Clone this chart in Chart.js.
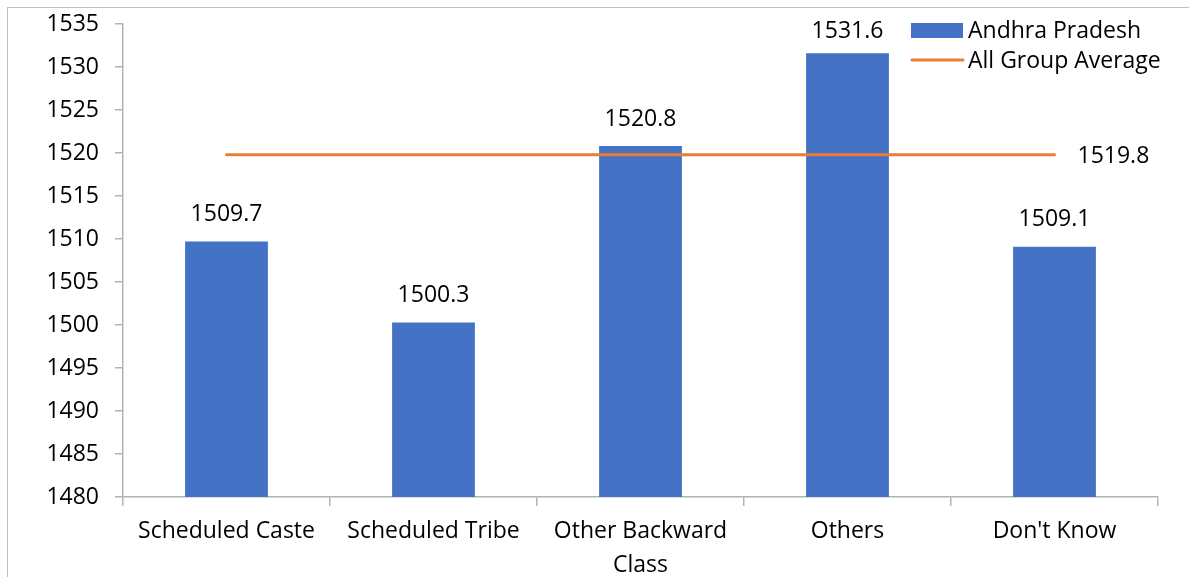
<!DOCTYPE html>
<html>
<head>
<meta charset="utf-8">
<script src="https://cdn.jsdelivr.net/npm/chart.js@4/dist/chart.umd.min.js"></script>
<style>
  html, body { margin: 0; padding: 0; background: #fff; }
  #wrap { position: relative; width: 1189px; height: 577px; }
</style>
</head>
<body>
<div id="wrap"><canvas id="c" width="1189" height="577"></canvas></div>
<script>
// Mean scores by social group
const categories = ['Scheduled Caste', 'Scheduled Tribe', ['Other Backward', 'Class'], 'Others', "Don't Know"];
const stateValues = [1509.7, 1500.3, 1520.8, 1531.6, 1509.1];
const averageValues = [1519.8, 1519.8, 1519.8, 1519.8, 1519.8];
const yTicks = { min: 1480, max: 1535, step: 5 };
const seriesNames = ['Andhra Pradesh', 'All Group Average'];

const BLUE = '#4472C4';
const ORANGE = '#ED7D31';
const AXIS = '#B3B3B3';
const FONT = '"Open Sans", "DejaVu Sans", sans-serif';

// Frame around the whole chart
const framePlugin = {
  id: 'frame',
  beforeDraw(chart) {
    const ctx = chart.ctx;
    ctx.save();
    ctx.strokeStyle = '#BFBFBF';
    ctx.lineWidth = 1;
    ctx.strokeRect(7.5, 7.5, chart.width + 20, chart.height + 20);
    ctx.restore();
  }
};

// Value labels above bars and beside the end of the average line
const valueLabels = {
  id: 'valueLabels',
  afterDatasetsDraw(chart) {
    const ctx = chart.ctx;
    ctx.save();
    ctx.fillStyle = '#000';
    ctx.font = '23px ' + FONT;
    ctx.textAlign = 'center';
    ctx.textBaseline = 'middle';
    const bars = chart.getDatasetMeta(0).data;
    bars.forEach((bar, i) => {
      const y = Math.max(bar.y - 27, 31);
      ctx.fillText(stateValues[i].toFixed(1), bar.x, y);
    });
    const pts = chart.getDatasetMeta(1).data;
    const last = pts[pts.length - 1];
    ctx.textAlign = 'left';
    ctx.fillText(averageValues[averageValues.length - 1].toFixed(1), last.x + 23, last.y + 2);
    ctx.restore();
  }
};

// Legend in the top-right corner of the plot
const cornerLegend = {
  id: 'cornerLegend',
  afterDraw(chart) {
    const ctx = chart.ctx;
    ctx.save();
    const x0 = 911, x1 = 963;
    ctx.fillStyle = chart.data.datasets[0].backgroundColor;
    ctx.fillRect(x0, 23, x1 - x0, 15);
    ctx.strokeStyle = chart.data.datasets[1].borderColor;
    ctx.lineWidth = 3;
    ctx.lineCap = 'round';
    ctx.beginPath();
    ctx.moveTo(x0 + 1, 60);
    ctx.lineTo(x1, 60);
    ctx.stroke();
    ctx.fillStyle = '#000';
    ctx.font = '23px ' + FONT;
    ctx.textAlign = 'left';
    ctx.textBaseline = 'middle';
    ctx.fillText(chart.data.datasets[0].label, 968, 31);
    ctx.fillText(chart.data.datasets[1].label, 968, 61);
    ctx.restore();
  }
};

new Chart(document.getElementById('c'), {
  data: {
    labels: categories,
    datasets: [
      {
        type: 'bar',
        label: seriesNames[0],
        data: stateValues,
        backgroundColor: BLUE,
        borderWidth: 0,
        categoryPercentage: 1,
        barPercentage: 0.4,
        order: 2
      },
      {
        type: 'line',
        label: seriesNames[1],
        data: averageValues,
        borderColor: ORANGE,
        borderWidth: 3,
        borderCapStyle: 'round',
        pointRadius: 0,
        fill: false,
        order: 1
      }
    ]
  },
  options: {
    responsive: false,
    animation: false,
    layout: { padding: { left: 0, top: 24, right: 31, bottom: 0 } },
    plugins: {
      legend: { display: false },
      tooltip: { enabled: false }
    },
    scales: {
      x: {
        type: 'category',
        offset: true,
        border: { color: AXIS, width: 1.5 },
        grid: {
          offset: true,
          drawOnChartArea: false,
          drawTicks: true,
          tickLength: 9,
          color: AXIS,
          lineWidth: 1.5
        },
        ticks: {
          color: '#000',
          font: { family: FONT, size: 23, lineHeight: 1.45 },
          maxRotation: 0,
          minRotation: 0,
          autoSkip: false,
          padding: 9
        },
        afterFit(scale) { scale.height = 80; }
      },
      y: {
        type: 'linear',
        min: yTicks.min,
        max: yTicks.max,
        border: { color: AXIS, width: 1.5 },
        grid: {
          drawOnChartArea: false,
          drawTicks: true,
          tickLength: 8,
          color: AXIS,
          lineWidth: 1.5
        },
        ticks: {
          stepSize: yTicks.step,
          color: '#000',
          font: { family: FONT, size: 23 },
          padding: 16,
          callback: (v) => String(v)
        },
        afterFit(scale) {
          scale.width = 123;
          scale.paddingTop = 0;
          scale.paddingBottom = 0;
        }
      }
    }
  },
  plugins: [framePlugin, valueLabels, cornerLegend]
});
</script>
</body>
</html>
